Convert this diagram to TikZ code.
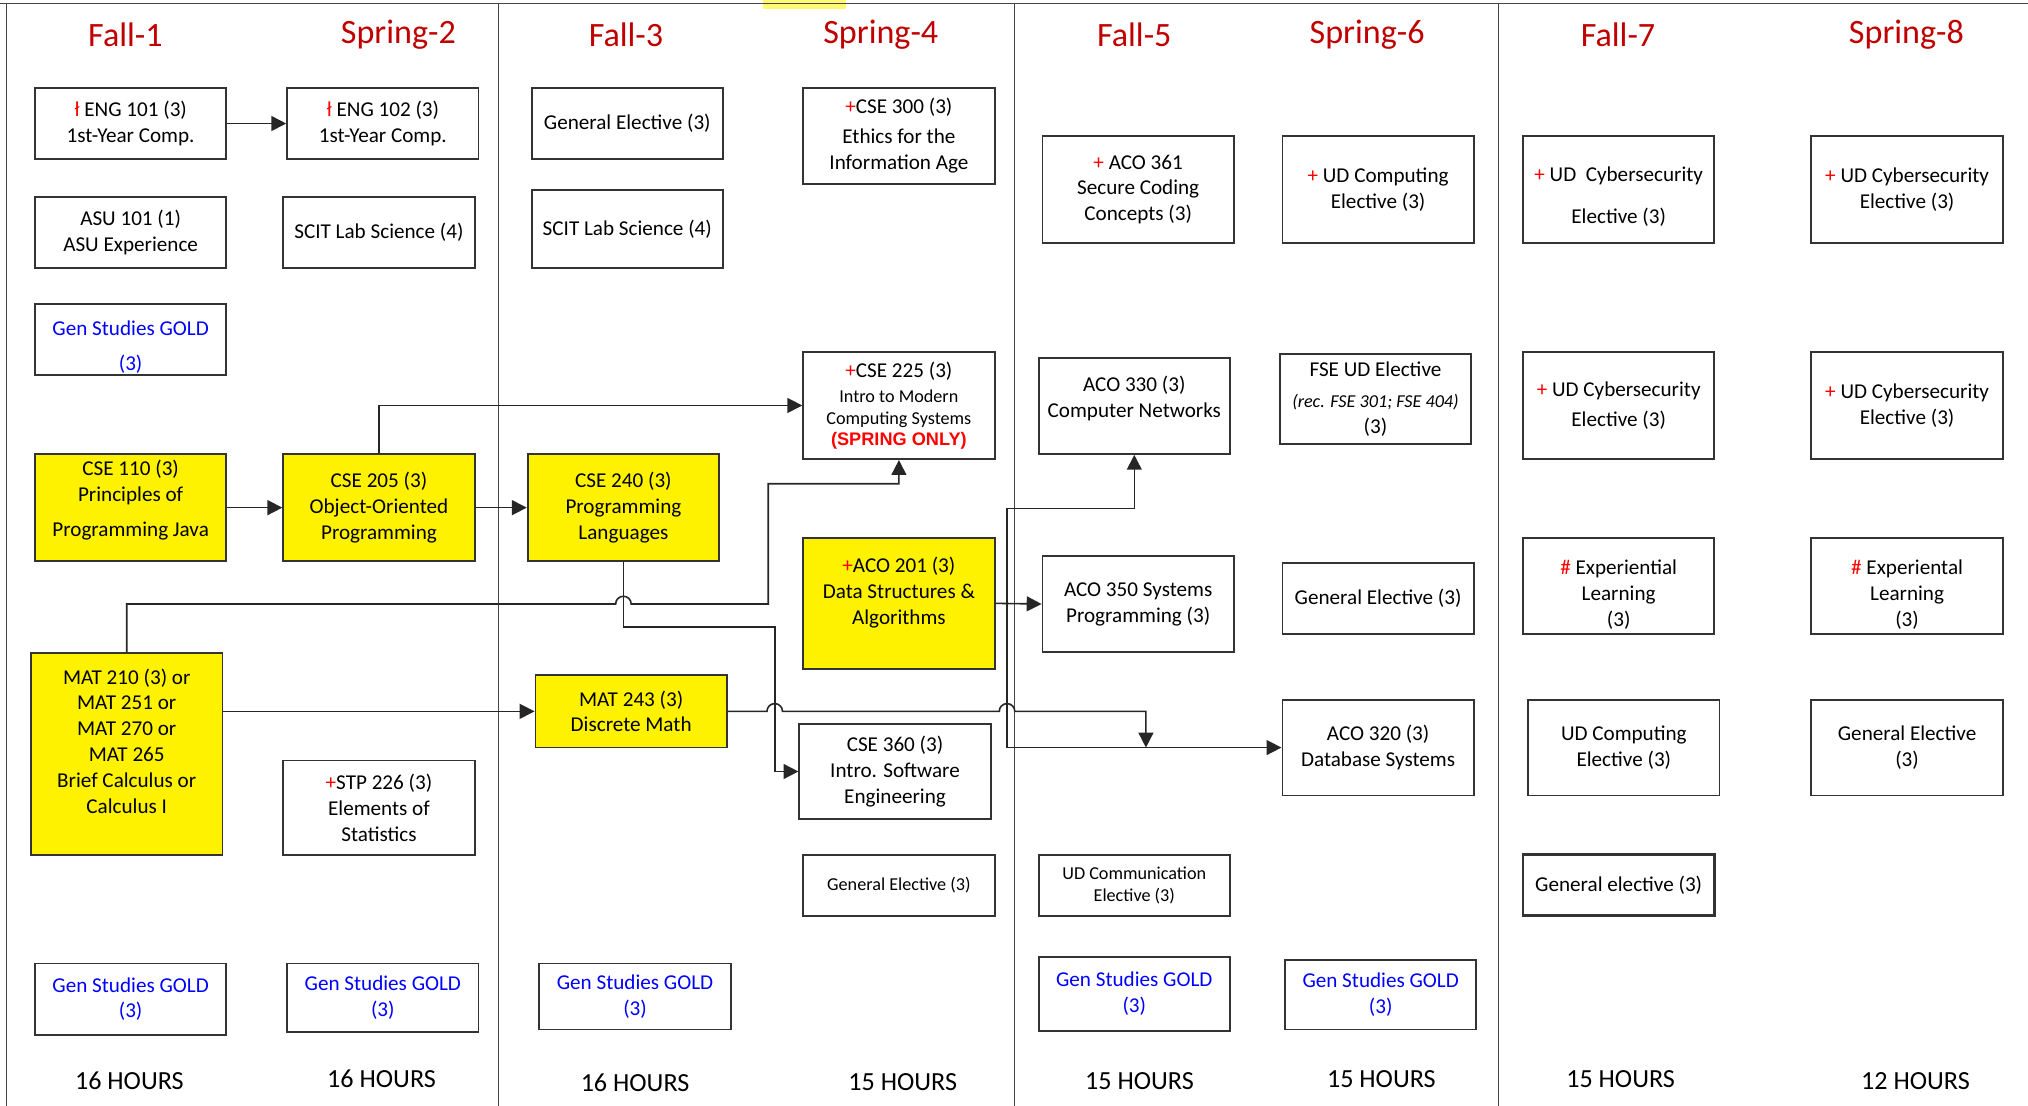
\documentclass[tikz,border=0pt]{standalone}
\usepackage{fontspec}
\setmainfont{Carlito}
\newfontfamily\arialfont{Liberation Sans}
\usetikzlibrary{arrows.meta}

\definecolor{semred}{RGB}{192,0,0}
\definecolor{markred}{RGB}{255,0,0}
\definecolor{goldblue}{RGB}{0,0,255}
\definecolor{linegray}{RGB}{70,70,70}
\newcommand{\mk}[1]{\textcolor{markred}{#1}}
\newcommand{\sm}{\fontsize{8}{9.6}\selectfont}
\newcommand{\lowr}{\rule{0pt}{12.8pt}}
\newcommand{\highr}{\rule[-8pt]{0pt}{1pt}}

\begin{document}
\begin{tikzpicture}[x=0.02cm,y=-0.02cm,
        course/.style={draw=black!80,line width=0.8pt,minimum width=2.96cm,inner sep=0pt,align=center,font=\fontsize{9.3}{11.4}\selectfont},
        core/.style={course,fill=yellow},
        small/.style={font=\sm},
        gold/.style={course,text=goldblue},
        sem/.style={text=semred,font=\fontsize{15}{18}\selectfont},
        hours/.style={font=\fontsize{11.5}{14}\selectfont},
        link/.style={draw=black!85,line width=0.7pt,-{Triangle[length=2.3mm,width=2.3mm]}}]

            \useasboundingbox (0,0) rectangle (1568,855);

            % Frame and year separators
            \fill[yellow!55] (590,0) rectangle (654,7);
            \draw[linegray,line width=0.6pt] (0,2.6) -- (1568,2.6);
            \foreach \x in {5,385.5,784.5,1158.5} {
                \draw[linegray,line width=0.6pt] (\x,2.6) -- (\x,855);
            }

            % Semester headers
            \foreach \x/\lab/\n in {
            97/Fall-1/1,
            308/Spring-2/2,
            484/Fall-3/3,
            681/Spring-4/4,
            877/Fall-5/5,
            1057/Spring-6/6,
            1251/Fall-7/7,
            1474/Spring-8/8} {
            \node[sem] (sem\n) at (\x,27) {\lab};
            }

            % Hours per semester
            \foreach \x/\y/\lab/\n in {
            100/836/16/1,
            295/834/16/2,
            491/837/16/3,
            698/837/15/4,
            881/836/15/5,
            1068/834/15/6,
            1253/834/15/7,
            1481/836/12/8} {
            \node[hours] (hrs\n) at (\x,\y) {\lab{} HOURS};
            }

            % Fall-1
            \node[course,minimum height=1.1cm] (eng101) at (101,95.5) {\mk{ł} ENG 101 (3)\\1st-Year Comp.};
            \node[course,minimum height=1.1cm] (asu101) at (101,179.5) {ASU 101 (1)\\ASU Experience};
            \node[gold,minimum height=1.1cm] (goldA) at (101,262.5) {\lowr Gen Studies GOLD\\[4pt](3)};
            \node[core,minimum height=1.66cm] (cse110) at (101,392.5) {CSE 110 (3)\\Principles of\\[4pt]Programming Java\highr};
            \node[core,minimum height=3.12cm] (mat210) at (98,583) {MAT 210 (3) or\\MAT 251 or\hspace*{12pt}\\MAT 270 or\hspace*{12pt}\\MAT 265\hspace*{12pt}\\Brief Calculus or\\Calculus I\\\mbox{}};
            \node[gold,minimum height=1.1cm] (goldB) at (101,772.5) {Gen Studies GOLD\\(3)};

            % Spring-2
            \node[course,minimum height=1.1cm] (eng102) at (296,95.5) {\mk{ł} ENG 102 (3)\\1st-Year Comp.};
            \node[course,minimum height=1.1cm] (scitA) at (293,179.5) {SCIT Lab Science (4)};
            \node[core,minimum height=1.66cm] (cse205) at (293,392.5) {CSE 205 (3)\\Object-Oriented\\Programming};
            \node[course,minimum height=1.46cm] (stp226) at (293,624.5) {\mk{+}STP 226 (3)\\Elements of\\Statistics};
            \node[gold,minimum height=1.06cm] (goldC) at (296,771.5) {Gen Studies GOLD\\(3)};

            % Fall-3
            \node[course,minimum height=1.1cm] (genA) at (485,95.5) {General Elective (3)};
            \node[course,minimum height=1.2cm] (scitB) at (485,177) {SCIT Lab Science (4)};
            \node[core,minimum height=1.66cm] (cse240) at (482,392.5) {CSE 240 (3)\\Programming\\Languages};
            \node[core,minimum height=1.12cm] (mat243) at (488,550) {MAT 243 (3)\\Discrete Math};
            \node[gold,minimum height=1.02cm] (goldD) at (491,770.5) {Gen Studies GOLD\\(3)};

            % Spring-4
            \node[course,minimum height=1.48cm] (cse300) at (695,105) {\mk{+}CSE 300 (3)\\[2pt]Ethics for the\\Information Age};
            \node[course,minimum height=1.66cm] (cse225) at (695,313.5) {\mk{+}CSE 225 (3)\\{\sm Intro to Modern}\\[-2pt]{\sm Computing Systems}\\[-2pt]{\arialfont\bfseries\sm\color{markred}(SPRING ONLY)}};
            \node[core,minimum height=2.02cm] (aco201) at (695,466.5) {\mk{+}ACO 201 (3)\\Data Structures \&\\Algorithms\\\mbox{}};
            \node[course,minimum height=1.46cm] (cse360) at (692,596.5) {CSE 360 (3)\\Intro. Software\\Engineering};
            \node[course,small,minimum height=0.94cm] (genB) at (695,684.5) {General Elective (3)};

            % Fall-5
            \node[course,minimum height=1.66cm] (aco361) at (880,146.5) {\mk{+} ACO 361\\Secure Coding\\Concepts (3)};
            \node[course,minimum height=1.48cm] (aco330) at (877,314) {ACO 330 (3)\\Computer Networks\highr};
            \node[course,minimum height=1.48cm] (aco350) at (880,467) {ACO 350 Systems\\Programming (3)};
            \node[course,small,minimum height=0.94cm] (udcomm) at (877,684.5) {UD Communication\\Elective (3)};
            \node[gold,minimum height=1.14cm] (goldE) at (877,768.5) {Gen Studies GOLD\\(3)};

            % Spring-6
            \node[course,minimum height=1.66cm] (udcompA) at (1065.5,146.5) {\mk{+} UD Computing\\Elective (3)};
            \node[course,minimum height=1.38cm] (fse) at (1063.5,308.5) {FSE UD Elective\\[2pt]{\sm\itshape (rec. FSE 301; FSE 404)}\\(3)};
            \node[course,minimum height=1.1cm] (genC) at (1065.5,462.5) {General Elective (3)};
            \node[course,minimum height=1.48cm] (aco320) at (1065.5,578) {ACO 320 (3)\\Database Systems};
            \node[gold,minimum height=1.08cm] (goldF) at (1067.5,769) {Gen Studies GOLD\\(3)};

            % Fall-7
            \node[course,minimum height=1.66cm] (cybA) at (1251.5,146.5) {\lowr\mk{+} UD\ \ Cybersecurity\\[7pt]Elective (3)};
            \node[course,minimum height=1.66cm] (cybB) at (1251.5,313.5) {\mk{+} UD Cybersecurity\\[2pt]Elective (3)};
            \node[course,minimum height=1.48cm] (expA) at (1251.5,453) {\rule{0pt}{14pt}\mk{\#} Experiential\\Learning\\(3)};
            \node[course,minimum height=1.48cm] (udcompB) at (1255.5,578) {UD Computing\\Elective (3)};
            \node[course,line width=1.3pt,minimum height=0.94cm] (genD) at (1251.5,684.5) {General elective (3)};

            % Spring-8
            \node[course,minimum height=1.66cm] (cybC) at (1474.5,146.5) {\mk{+} UD Cybersecurity\\Elective (3)};
            \node[course,minimum height=1.66cm] (cybD) at (1474.5,313.5) {\mk{+} UD Cybersecurity\\Elective (3)};
            \node[course,minimum height=1.48cm] (expB) at (1474.5,453) {\rule{0pt}{14pt}\mk{\#} Experiental\\Learning\\(3)};
            \node[course,minimum height=1.48cm] (genE) at (1474.5,578) {General Elective\\(3)};

            % Prerequisite arrows
            \draw[link] (eng101) -- (eng102);
            \draw[link] (cse110) -- (cse205);
            \draw[link] (cse205) -- (cse240);
            \draw[link] (cse205.north) |- (cse225.west);
            \draw[link] (mat210.north) |- (476,467) arc (180:360:6) -- (594,467) |- (695,374) -- (cse225.south);
            \draw[link] (cse240.south) -- (482,485) -| (599,540) |- (cse360.west);
            \draw[link] (mat210.east |- mat243.west) -- (mat243.west);

            \coordinate (merge) at (886,578);
            \draw[link] (mat243.east) -- (593,550) arc (180:360:6) -- (772.6,550) arc (180:360:6) -- (886,550) -- (merge);

            \draw[link] (aco201.east) -- (aco350.west);
            \draw[link] (aco201.east) -- (778.6,466.5) |- (877,393) -- (aco330.south);
            \draw[link] (aco201.east) -- (778.6,466.5) |- (aco320.west);

        \end{tikzpicture}
\end{document}
